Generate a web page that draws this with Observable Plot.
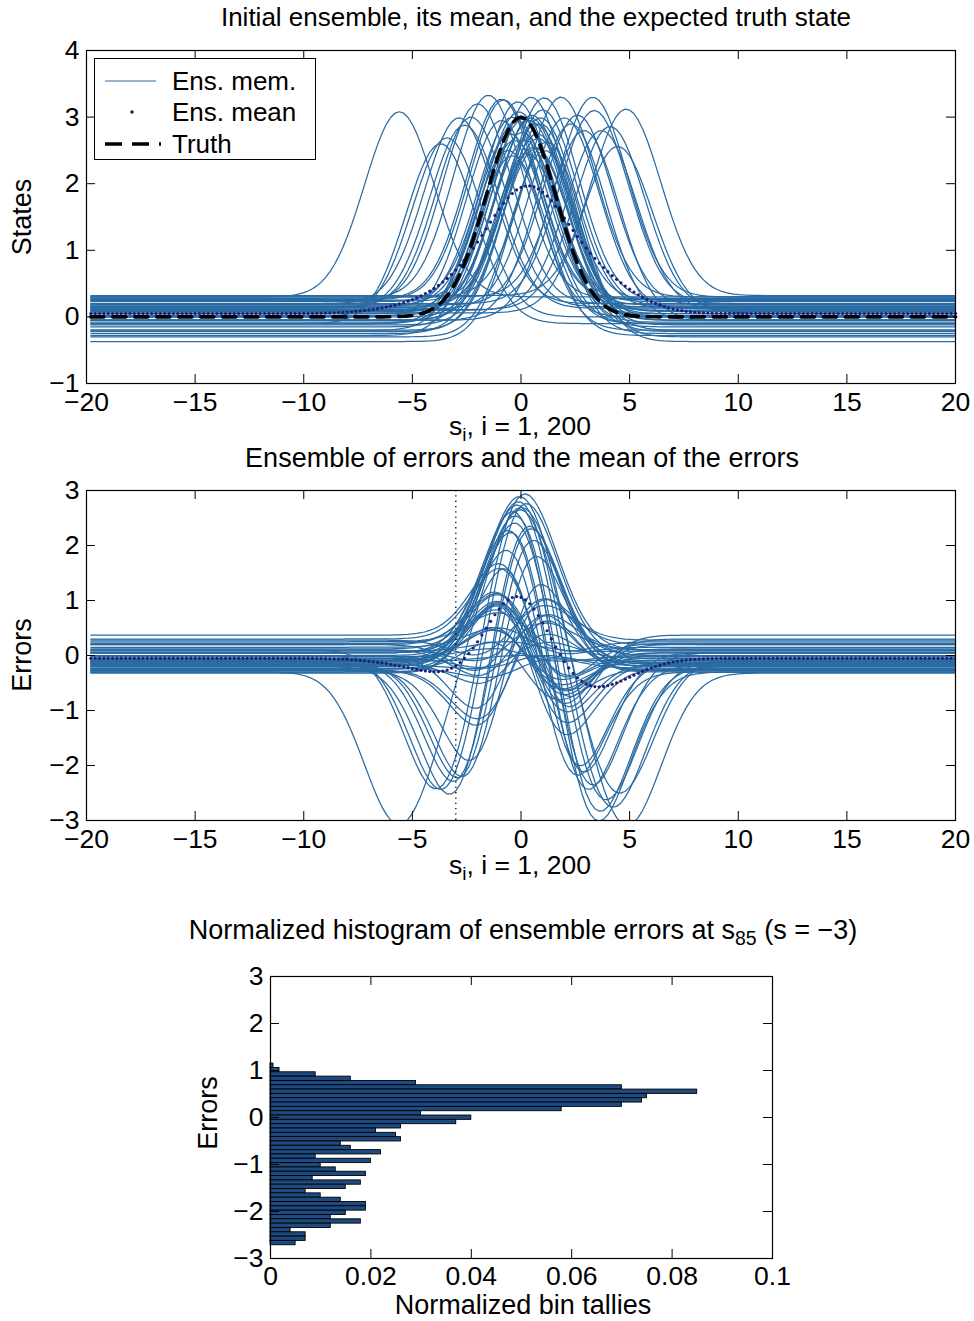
<!DOCTYPE html>
<html><head><meta charset="utf-8">
<script src="https://cdn.jsdelivr.net/npm/d3@7"></script>
<script src="https://cdn.jsdelivr.net/npm/@observablehq/plot@0.6"></script>
<style>
body{margin:0;background:#fff;}
#wrap{position:relative;width:974px;height:1321px;font-family:"Liberation Sans",Arial,sans-serif;color:#000;overflow:hidden;}
#wrap svg{position:absolute;left:0;}
.t{position:absolute;white-space:nowrap;transform:translate(-50%,-50%);line-height:1;}
.rot{transform:translate(-50%,-50%) rotate(-90deg);}
.sub{font-size:0.72em;position:relative;top:0.32em;line-height:0;}
#legend{position:absolute;left:94px;top:58px;width:222px;height:102px;border:1.2px solid #000;background:#fff;box-sizing:border-box;}
#legend .lt{position:absolute;left:77px;font-size:26px;transform:translateY(-50%);line-height:1;white-space:nowrap;}
</style></head><body><div id="wrap"></div>
<script>
// ---- axis ticks ----
const xTicks = [-20, -15, -10, -5, 0, 5, 10, 15, 20];
const yTicks1 = [-1, 0, 1, 2, 3, 4];
const yTicks2 = [-3, -2, -1, 0, 1, 2, 3];
const yTicks3 = [-3, -2, -1, 0, 1, 2, 3];
const xTicks3 = [0, 0.02, 0.04, 0.06, 0.08, 0.1];

// ---- grid s_i = -20 + 0.2 i, i = 1..200 ----
const gridIndex = d3.range(1, 201);
const gridStart = -20, gridStep = 0.2;

// ---- truth bump and ensemble member bumps ----
const bumpWidth = 1.6;
const truthAmp = 3, truthCenter = 0;
const memberCenters = [-5.6, -3.7, -3.4, -2.85, -2.6, -2.3, -2.0, 2.0, 2.3, 2.6, 2.9, 3.3, 3.37, 3.7, 4.1, 4.45, 4.84,
  -1.5, -0.2, -0.8, -0.5, -0.15, 0.0, 0.2, 0.46, 0.7, 0.9, 1.06, 0.4, 0.75, 1.84, 0.9, -0.9, -0.1, 0.3, 0.5, -0.3, 1.2, 0.6, 1.1, -0.6, -0.4, 0.1, 0.8, -0.9, 0.7, 0.45, -0.4, 1.0, 0.05];
const memberAmps = [2.78, 2.7, 2.69, 2.79, 2.75, 2.85, 3.0, 2.87, 2.95, 2.85, 2.85, 3.0, 2.9, 2.7, 2.75, 2.5, 2.8,
  3.05, 2.9, 3.0, 2.85, 3.0, 2.9, 2.8, 3.05, 2.9, 3.1, 3.05, 2.9, 2.8, 3.0, 2.85, 2.95, 2.9, 2.7, 2.95, 2.75, 3.0, 2.6, 2.8, 2.7, 2.85, 2.95, 2.8, 3.0, 2.75, 2.9, 2.7, 2.95, 2.85];
const memberOffsets = [0.30, -0.10, 0.00, 0.20, 0.13, 0.15, 0.20, 0.12, -0.05, 0.18, -0.05, 0.30, 0.20, 0.10, 0.11, 0.06, 0.32,
  0.28, 0.05, 0.26, -0.10, 0.23, 0.10, -0.15, 0.25, 0.00, -0.20, 0.24, 0.05, -0.05, 0.30, 0.14, 0.00, 0.18, -0.25, 0.08, -0.10, -0.37, -0.05, -0.30, -0.20, 0.15, 0.02, -0.12, 0.27, -0.22, 0.09, -0.28, 0.16, -0.08];

// ---- histogram of errors at s_85 (bins from top to bottom) ----
const histTallies = [0.0006, 0.0018, 0.009, 0.016, 0.029, 0.070, 0.085, 0.075, 0.074, 0.070, 0.058, 0.030, 0.040, 0.037,
  0.026, 0.021, 0.025, 0.026, 0.014, 0.016, 0.022, 0.009, 0.020, 0.010, 0.013, 0.019, 0.0084, 0.018, 0.015, 0.007,
  0.010, 0.014, 0.019, 0.019, 0.015, 0.012, 0.018, 0.012, 0.004, 0.007, 0.007, 0.005];
const histTopCenter = 1.10, histBinWidth = 0.092;
const obsS = -3;

// ---- styles ----
const memberColor = "#2a6ba3";
const meanColor = "#1e1e78";
const histFill = "#1d4a80";
const FONT = "Liberation Sans, Arial, sans-serif";
const TICKFONT = 26.5;
const fmt = d => d < 0 ? "\u2212" + Math.abs(d) : String(d);

// ---- derived data ----
const sGrid = gridIndex.map(i => gridStart + gridStep * i);
const bump = (s, c, a) => a * Math.exp(-((s - c) ** 2) / (2 * bumpWidth ** 2));
const truth = sGrid.map(s => bump(s, truthCenter, truthAmp));
const members = memberCenters.map((c, k) => sGrid.map(s => memberOffsets[k] + bump(s, c, memberAmps[k])));
const mean = sGrid.map((s, i) => d3.mean(members, m => m[i]));
const memberData = [], errorData = [];
members.forEach((m, k) => m.forEach((v, i) => {
  memberData.push({k, s: sGrid[i], v});
  errorData.push({k, s: sGrid[i], v: truth[i] - v});
}));
const truthData = sGrid.map((s, i) => ({s, v: truth[i]}));
const meanData = sGrid.map((s, i) => ({s, v: mean[i]}));
const meanErrData = sGrid.map((s, i) => ({s, v: truth[i] - mean[i]}));
const histData = histTallies.map((t, j) => ({t, hi: histTopCenter - histBinWidth * j + histBinWidth / 2, lo: histTopCenter - histBinWidth * j - histBinWidth / 2}));

const wrap = document.getElementById("wrap");

function boxTicks(xt, yt, plotW, plotH, len = 9) {
  return [
    Plot.ruleX(xt, {x: d => d, insetTop: plotH - len, stroke: "black", strokeWidth: 1}),
    Plot.ruleX(xt, {x: d => d, insetBottom: plotH - len, stroke: "black", strokeWidth: 1}),
    Plot.ruleY(yt, {y: d => d, insetRight: plotW - len, stroke: "black", strokeWidth: 1}),
    Plot.ruleY(yt, {y: d => d, insetLeft: plotW - len, stroke: "black", strokeWidth: 1})
  ];
}

function place(svg, top) { svg.style.top = top + "px"; wrap.appendChild(svg); }
function text(html, x, y, size, rot) {
  const d = document.createElement("div");
  d.className = "t" + (rot ? " rot" : "");
  d.style.left = x + "px"; d.style.top = y + "px"; d.style.fontSize = size + "px";
  d.innerHTML = html; wrap.appendChild(d); return d;
}

// ---- panel 1 ----
{
  const W = 974, H = 440, mt = 50, mb = 57, ml = 86, mr = 19;
  const p = Plot.plot({
    width: W, height: H, marginTop: mt, marginBottom: mb, marginLeft: ml, marginRight: mr,
    style: {fontFamily: FONT, fontSize: TICKFONT + "px", color: "black", background: "transparent"},
    x: {domain: [-20, 20], axis: null},
    y: {domain: [-1, 4], axis: null},
    marks: [
      Plot.line(memberData, {x: "s", y: "v", z: "k", stroke: memberColor, strokeWidth: 1.25, clip: true}),
      Plot.dot(meanData, {x: "s", y: "v", r: 1.6, fill: meanColor, stroke: null}),
      Plot.line(truthData, {x: "s", y: "v", stroke: "black", strokeWidth: 3.6, strokeDasharray: "13,9"}),
      Plot.frame({stroke: "black", strokeWidth: 1.2}),
      ...boxTicks(xTicks, yTicks1, W - ml - mr, H - mt - mb),
      Plot.axisX(xTicks, {tickSize: 0, tickPadding: 9, tickFormat: fmt, fontSize: TICKFONT, label: null}),
      Plot.axisY(yTicks1, {tickSize: 0, tickPadding: 7, tickFormat: fmt, fontSize: TICKFONT, label: null})
    ]
  });
  place(p, 0);
}
// ---- panel 2 ----
{
  const W = 974, H = 440, mt = 50, mb = 60, ml = 86, mr = 19;
  const p = Plot.plot({
    width: W, height: H, marginTop: mt, marginBottom: mb, marginLeft: ml, marginRight: mr,
    style: {fontFamily: FONT, fontSize: TICKFONT + "px", color: "black", background: "transparent"},
    x: {domain: [-20, 20], axis: null},
    y: {domain: [-3, 3], axis: null},
    marks: [
      Plot.line(errorData, {x: "s", y: "v", z: "k", stroke: memberColor, strokeWidth: 1.25, clip: true}),
      Plot.dot(meanErrData, {x: "s", y: "v", r: 1.6, fill: meanColor, stroke: null, clip: true}),
      Plot.ruleX([obsS], {x: d => d, stroke: "black", strokeWidth: 1.3, strokeDasharray: "1.3,4"}),
      Plot.frame({stroke: "black", strokeWidth: 1.2}),
      ...boxTicks(xTicks, yTicks2, W - ml - mr, H - mt - mb),
      Plot.axisX(xTicks, {tickSize: 0, tickPadding: 9, tickFormat: fmt, fontSize: TICKFONT, label: null}),
      Plot.axisY(yTicks2, {tickSize: 0, tickPadding: 7, tickFormat: fmt, fontSize: TICKFONT, label: null})
    ]
  });
  place(p, 440);
}
// ---- panel 3 ----
{
  const W = 974, H = 421, mt = 76, mb = 63, ml = 270, mr = 202;
  const p = Plot.plot({
    width: W, height: H, marginTop: mt, marginBottom: mb, marginLeft: ml, marginRight: mr,
    style: {fontFamily: FONT, fontSize: TICKFONT + "px", color: "black", background: "transparent"},
    x: {domain: [0, 0.1], axis: null},
    y: {domain: [-3, 3], axis: null},
    marks: [
      Plot.rect(histData, {x1: 0, x2: "t", y1: "lo", y2: "hi", fill: histFill, stroke: "black", strokeWidth: 0.9}),
      Plot.frame({stroke: "black", strokeWidth: 1.2}),
      ...boxTicks(xTicks3, yTicks3, W - ml - mr, H - mt - mb),
      Plot.axisX(xTicks3, {tickSize: 0, tickPadding: 8, tickFormat: d => String(d), fontSize: TICKFONT, label: null}),
      Plot.axisY(yTicks3, {tickSize: 0, tickPadding: 7, tickFormat: fmt, fontSize: TICKFONT, label: null})
    ]
  });
  place(p, 900);
}

// ---- texts ----
text("Initial ensemble, its mean, and the expected truth state", 536, 17, 26);
text("States", 22, 217, 27, true);
text('s<span class="sub">i</span>, i = 1, 200', 520, 426, 26.5);
text("Ensemble of errors and the mean of the errors", 522, 458, 27);
text("Errors", 22, 655, 27, true);
text('s<span class="sub">i</span>, i = 1, 200', 520, 865, 26.5);
text('Normalized histogram of ensemble errors at s<span class="sub">85</span> (s = \u22123)', 523, 930, 27);
text("Errors", 208, 1113, 27, true);
text("Normalized bin tallies", 523, 1305, 27);

// ---- legend ----
const lg = document.createElement("div");
lg.id = "legend";
lg.innerHTML = `<svg width="222" height="102" style="position:absolute;left:0;top:0">
  <line x1="10" x2="61" y1="22" y2="22" stroke="${memberColor}" stroke-width="1.2"/>
  <circle cx="37" cy="53" r="1.8" fill="${meanColor}"/>
  <line x1="10" x2="66" y1="85" y2="85" stroke="black" stroke-width="3.6" stroke-dasharray="17,10"/>
</svg>
<div class="lt" style="top:22px">Ens. mem.</div>
<div class="lt" style="top:53px">Ens. mean</div>
<div class="lt" style="top:85px">Truth</div>`;
wrap.appendChild(lg);
</script></body></html>
